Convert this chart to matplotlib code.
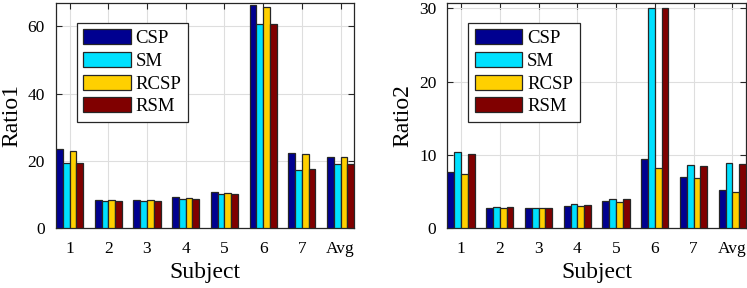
import numpy as np
import matplotlib
matplotlib.use('Agg')
import matplotlib.pyplot as plt

plt.rcParams['font.family'] = ['Liberation Serif', 'DejaVu Serif']

subjects = ['1', '2', '3', '4', '5', '6', '7', 'Avg']
methods = ['CSP', 'SM', 'RCSP', 'RSM']
colors = ['#000090', '#00E0FF', '#FFD000', '#800000']

# Ratio1 values per method
ratio1_csp = [23.5, 8.5, 8.3, 9.2, 10.7, 66.4, 22.3, 21.3]
ratio1_sm = [19.3, 8.2, 8.2, 8.6, 10.1, 60.6, 17.4, 19.0]
ratio1_rcsp = [23.1, 8.4, 8.3, 9.1, 10.6, 65.7, 22.0, 21.1]
ratio1_rsm = [19.3, 8.2, 8.2, 8.6, 10.1, 60.6, 17.6, 19.0]

# Ratio2 values per method
ratio2_csp = [7.7, 2.8, 2.77, 3.1, 3.77, 9.4, 7.05, 5.2]
ratio2_sm = [10.4, 2.87, 2.8, 3.27, 4.04, 30.0, 8.7, 8.87]
ratio2_rcsp = [7.45, 2.78, 2.77, 3.0, 3.63, 8.2, 6.9, 4.95]
ratio2_rsm = [10.1, 2.87, 2.8, 3.18, 3.95, 30.0, 8.45, 8.73]


def grouped_bars(ax, series, ylabel, ylim, yticks):
    x = np.arange(1, len(subjects) + 1)
    w = 0.175
    for k, (vals, name, c) in enumerate(zip(series, methods, colors)):
        ax.bar(x + (k - 1.5) * w, vals, width=w, color=c, edgecolor='#262626',
               linewidth=0.9, label=name, zorder=3)
    ax.set_xlim(0.65, 8.35)
    ax.set_ylim(*ylim)
    ax.set_xticks(x)
    ax.set_xticklabels(subjects)
    ax.set_yticks(yticks)
    ax.grid(True, color='#dedede', linewidth=0.8, zorder=0)
    ax.set_axisbelow(True)
    ax.tick_params(direction='in', top=True, right=True, length=4, width=0.8,
                   color='#262626', labelsize=12.5)
    ax.tick_params(axis='x', pad=9)
    ax.tick_params(axis='y', pad=8)
    for s in ax.spines.values():
        s.set_color('#262626')
        s.set_linewidth(0.9)
    ax.set_xlabel('Subject', fontsize=17, labelpad=4)
    ax.set_ylabel(ylabel, fontsize=17, labelpad=4)
    leg = ax.legend(loc='upper left', bbox_to_anchor=(0.069, 0.91), borderaxespad=0,
                    fontsize=13.5, handlelength=2.55, handleheight=0.85,
                    labelspacing=0.25, handletextpad=0.25, borderpad=0.35,
                    fancybox=False, framealpha=1, edgecolor='#262626')
    leg.get_frame().set_linewidth(0.9)


fig = plt.figure(figsize=(7.47, 2.88), dpi=100)
ax1 = fig.add_axes([0.075, 0.207, 0.399, 0.784])
ax2 = fig.add_axes([0.599, 0.207, 0.3995, 0.784])

grouped_bars(ax1, [ratio1_csp, ratio1_sm, ratio1_rcsp, ratio1_rsm], 'Ratio1', (0, 67), [0, 20, 40, 60])
grouped_bars(ax2, [ratio2_csp, ratio2_sm, ratio2_rcsp, ratio2_rsm], 'Ratio2', (0, 30.8), [0, 10, 20, 30])

fig.savefig('out.png', dpi=100)
